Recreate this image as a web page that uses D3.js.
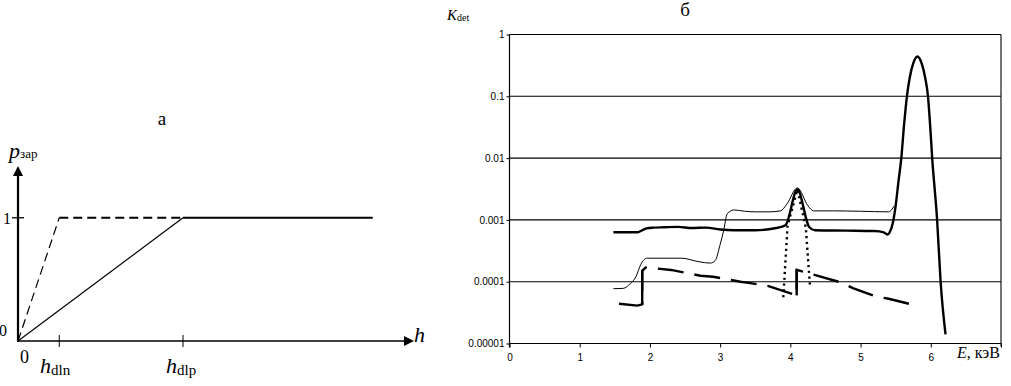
<!DOCTYPE html>
<html><head><meta charset="utf-8">
<script src="https://cdn.jsdelivr.net/npm/d3@7"></script>
<style>body{margin:0;background:#fff}svg{display:block}</style>
</head><body>
<svg id="c" width="1011" height="386"></svg>
<script>
// ---- Panel a (schematic) ----
const hdln = 1, hdlp = 4, hEnd = 8.6;
const aDashed = [[0,0],[hdln,1],[hdlp,1]];
const aSolidDiag = [[0,0],[hdlp,1]];
const aSolidFlat = [[hdlp,1],[hEnd,1]];
const aTicksX = [hdln, hdlp];

// ---- Panel b (K_det vs E) ----
const yTickVals = [1, 0.1, 0.01, 0.001, 0.0001, 0.00001];
const yTickLabels = ["1", "0.1", "0.01", "0.001", "0.0001", "0.00001"];
const xTickVals = [0,1,2,3,4,5,6,7];
const xTickLabels = ["0","1","2","3","4","5","6",""];

// thick solid curve
const thickE = [1.48,1.82,1.88,1.95,2.05,2.2,2.4,2.6,2.8,3.0,3.2,3.5,3.8,3.93,4.1,4.27,4.35,4.8,5.2,5.33,5.38,5.42,5.46,5.5,5.54,5.58,5.62,5.66,5.7,5.75,5.81,5.87,5.92,5.96,5.99,6.02,6.09,6.14,6.21];
const thickK = [6.3e-4,6.3e-4,6.7e-4,7.3e-4,7.5e-4,7.6e-4,7.7e-4,7.4e-4,7.5e-4,7.0e-4,6.8e-4,6.8e-4,7.4e-4,8.2e-4,3.1e-3,7.6e-4,6.8e-4,6.7e-4,6.6e-4,6.3e-4,5.8e-4,6.5e-4,9e-4,1.7e-3,4.2e-3,1.0e-2,0.035,0.1,0.2,0.34,0.44,0.34,0.2,0.1,0.035,0.01,0.001,1e-4,1.4e-5];

// thin solid curve
const thinE = [1.48,1.62,1.72,1.8,1.87,1.96,2.2,2.45,2.7,2.86,2.93,3.0,3.05,3.1,3.2,3.35,3.5,3.7,3.86,3.95,4.1,4.25,4.33,4.6,5.0,5.4,5.48];
const thinK = [7.7e-5,7.8e-5,9.3e-5,1.2e-4,1.9e-4,2.4e-4,2.4e-4,2.4e-4,2.1e-4,2.0e-4,2.2e-4,4.0e-4,6.7e-4,1.25e-3,1.45e-3,1.38e-3,1.35e-3,1.35e-3,1.4e-3,1.8e-3,3.3e-3,1.7e-3,1.4e-3,1.4e-3,1.38e-3,1.35e-3,1.7e-3];

// dashed thick curve
const dashE = [1.56,1.82,1.89,1.89,1.94,2.3,2.72,2.9,3.29,3.43,3.69,4.09,4.09,4.71,4.9,5.21,5.4,5.76];
const dashK = [4.4e-5,4.1e-5,4.3e-5,1.5e-4,1.7e-4,1.55e-4,1.25e-4,1.2e-4,1.0e-4,9.5e-5,8.5e-5,6.0e-5,1.56e-4,9.8e-5,7.8e-5,5.8e-5,5.3e-5,4.2e-5];

// dotted curve
const dotE = [3.9,3.96,4.1,4.22,4.28];
const dotK = [5.6e-5,8.0e-4,3.1e-3,7.5e-4,8.3e-5];

const SERIF = "'Liberation Serif','Times New Roman','DejaVu Serif',serif";
const SANS = "'Liberation Sans',Arial,sans-serif";
const svg = d3.select("#c").style("font-family", SERIF);

// ===== Panel a =====
const ax = d3.scaleLinear([0, 9.6], [18, 414]);
const ay = d3.scaleLinear([0, 1.42], [341, 166]);
const ga = svg.append("g");
const lineA = d3.line().x(d=>ax(d[0])).y(d=>ay(d[1]));

ga.append("line").attr("x1",ax(0)).attr("x2",ax(9.4)).attr("y1",ay(0)).attr("y2",ay(0)).attr("stroke","#000").attr("stroke-width",1.3);
ga.append("line").attr("x1",ax(0)).attr("x2",ax(0)).attr("y1",ay(0)+1).attr("y2",ay(1.36)).attr("stroke","#000").attr("stroke-width",2.2);
ga.append("path").attr("d",`M${ax(9.6)},${ay(0)} L${ax(9.6)-10},${ay(0)-5} L${ax(9.6)-10},${ay(0)+5} Z`).attr("fill","#000");
ga.append("path").attr("d",`M${ax(0)},${ay(1.42)} L${ax(0)-5},${ay(1.42)+10} L${ax(0)+5},${ay(1.42)+10} Z`).attr("fill","#000");
ga.selectAll("line.tx").data(aTicksX).join("line").attr("class","tx")
  .attr("x1",d=>ax(d)).attr("x2",d=>ax(d)).attr("y1",ay(0)-6).attr("y2",ay(0)+6).attr("stroke","#000").attr("stroke-width",1);
ga.append("line").attr("x1",ax(0)-6).attr("x2",ax(0)+6).attr("y1",ay(1)).attr("y2",ay(1)).attr("stroke","#000").attr("stroke-width",1.3);

ga.append("path").attr("d",lineA(aDashed.slice(0,2))).attr("fill","none").attr("stroke","#000").attr("stroke-width",1.2).attr("stroke-dasharray","9,5");
ga.append("path").attr("d",lineA(aDashed.slice(1))).attr("fill","none").attr("stroke","#000").attr("stroke-width",2).attr("stroke-dasharray","9,5");
ga.append("path").attr("d",lineA(aSolidDiag)).attr("fill","none").attr("stroke","#000").attr("stroke-width",1.2);
ga.append("path").attr("d",lineA(aSolidFlat)).attr("fill","none").attr("stroke","#000").attr("stroke-width",2.2);

const T = (g,x,y,size)=>g.append("text").attr("x",x).attr("y",y).style("font-family",SERIF).style("font-size",size+"px").attr("fill","#000");
T(ga,162,125,19).attr("text-anchor","middle").text("а");
const pl = T(ga,9,158,22);
pl.append("tspan").style("font-style","italic").text("p");
pl.append("tspan").style("font-size","13px").text("зар");
T(ga,3,224,16).text("1");
T(ga,-1,336,16).text("0");
T(ga,20,363,18).text("0");
T(ga,414,342,22).style("font-style","italic").text("h");
const hl = T(ga,40,373,22);
hl.append("tspan").style("font-style","italic").text("h");
hl.append("tspan").style("font-size","15px").attr("dy",2).text("dln");
const hp = T(ga,166,373,22);
hp.append("tspan").style("font-style","italic").text("h");
hp.append("tspan").style("font-size","15px").attr("dy",2).text("dlp");

// ===== Panel b =====
const x = d3.scaleLinear([0, 7], [509.5, 1001]);
const y = d3.scaleLog([1e-5, 1], [343.5, 34.5]);
const gb = svg.append("g");

gb.selectAll("line.grid").data(yTickVals).join("line").attr("class","grid")
  .attr("x1",x(0)).attr("x2",x(7)).attr("y1",d=>y(d)).attr("y2",d=>y(d)).attr("stroke","#000").attr("stroke-width",1.1);
gb.append("line").attr("x1",x(7)).attr("x2",x(7)).attr("y1",y(1)).attr("y2",y(1e-5)+3).attr("stroke","#000").attr("stroke-width",1.1);

const yAxis = d3.axisLeft(y).tickValues(yTickVals).tickSize(3).tickFormat((d,i)=>yTickLabels[i]);
const gy = gb.append("g").attr("transform",`translate(${x(0)},0)`).call(yAxis);
gy.select(".domain").attr("d",`M0,${y(1)}V${y(1e-5)+4}`).attr("stroke-width",1.2);
gy.selectAll("text").style("font-family",SANS).style("font-size","10px").attr("x",-5);

const xAxis = d3.axisBottom(x).tickValues(xTickVals).tickSize(4).tickFormat((d,i)=>xTickLabels[i]);
const gx = gb.append("g").attr("transform",`translate(0,${y(1e-5)})`).call(xAxis);
gx.select(".domain").attr("d",`M${x(0)},0H${x(7)}`).attr("stroke-width",1.1);
gx.selectAll("text").style("font-family",SANS).style("font-size","10px").attr("y",10);

const lineB = d3.line().x(d=>x(d[0])).y(d=>y(d[1]));
const zip = (a,b)=>a.map((v,i)=>[v,b[i]]);

gb.append("path").attr("d",lineB.curve(d3.curveMonotoneX)(zip(thinE,thinK))).attr("fill","none").attr("stroke","#000").attr("stroke-width",1);
gb.append("path").attr("d",lineB.curve(d3.curveLinear)(zip(dotE,dotK))).attr("fill","none").attr("stroke","#000").attr("stroke-width",2.4).attr("stroke-dasharray","2.2,3.6");
gb.append("path").attr("d",lineB.curve(d3.curveMonotoneX)(zip(thickE,thickK))).attr("fill","none").attr("stroke","#000").attr("stroke-width",2.4);
const dashPts = zip(dashE,dashK);
gb.append("path").attr("d",lineB.curve(d3.curveLinear)(dashPts)).attr("fill","none").attr("stroke","#000").attr("stroke-width",2.4).attr("stroke-dasharray","26,11");
// vertical jumps of the dashed curve drawn solid
const jumps = dashPts.slice(1).map((p,i)=>[dashPts[i],p]).filter(s=>s[0][0]===s[1][0]);
gb.selectAll("path.jump").data(jumps).join("path").attr("class","jump")
  .attr("d",d=>lineB.curve(d3.curveLinear)(d)).attr("fill","none").attr("stroke","#000").attr("stroke-width",2.4);

const kl = T(gb,447,20,15);
kl.append("tspan").style("font-style","italic").text("K");
kl.append("tspan").style("font-size","10px").attr("dy",1).text("det");
T(gb,685,16,19).attr("text-anchor","middle").text("б");
const el = T(gb,957,358,16);
el.append("tspan").style("font-style","italic").text("E");
el.append("tspan").text(", кэВ");
</script>
</body></html>
